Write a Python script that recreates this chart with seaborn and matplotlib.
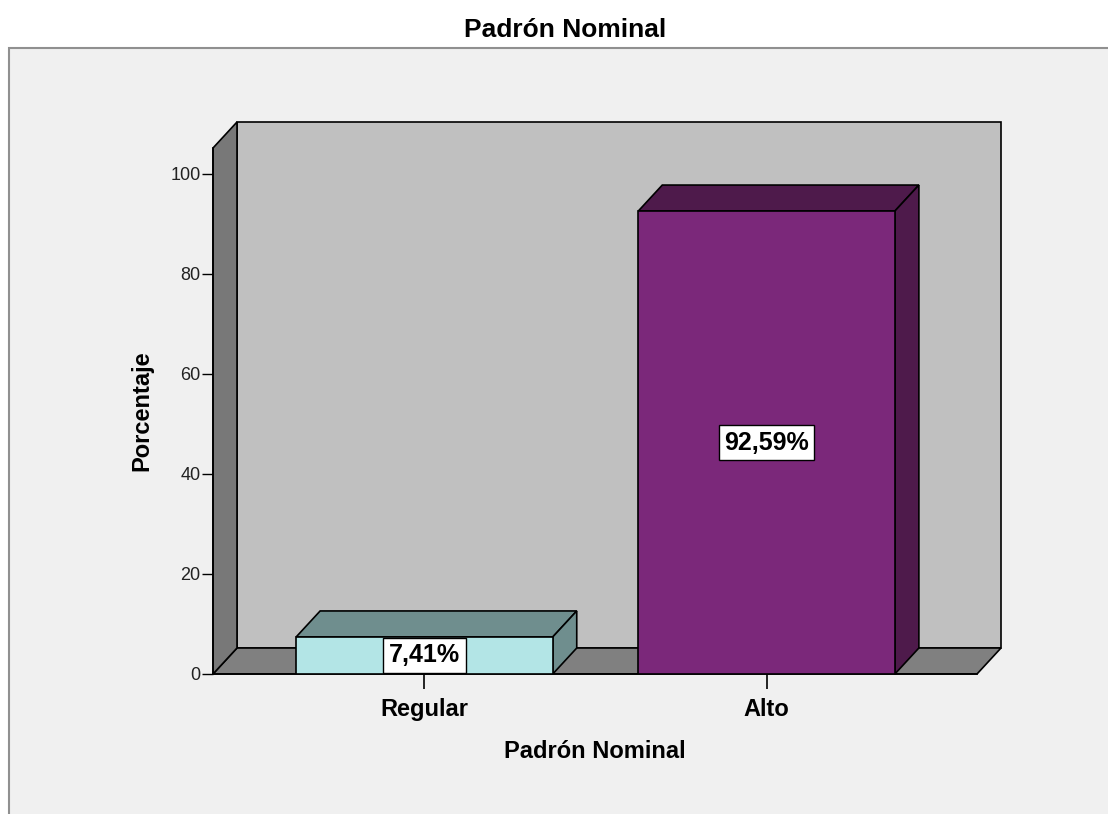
import matplotlib
matplotlib.use("Agg")
import matplotlib.pyplot as plt
from matplotlib.patches import Polygon, Rectangle
import numpy as np
import seaborn as sns

# data
categories = ["Regular", "Alto"]
percentages = [7.41, 92.59]
bar_labels = ["7,41%", "92,59%"]
y_ticks = [0, 20, 40, 60, 80, 100]

front_colors = ["#B3E5E6", "#7B287A"]
shade_colors = ["#6F8E8E", "#4E1A4B"]

W, H = 1108, 814
DEPTH = (24, 26)  # 3D depth offset in pixels

sns.set_style("white")
plt.rcParams["font.family"] = ["Liberation Sans", "DejaVu Sans"]
plt.rcParams["text.color"] = "black"
plt.rcParams["axes.labelcolor"] = "black"

fig = plt.figure(figsize=(W / 100, H / 100), dpi=100, facecolor="white")
fig.patches.append(Rectangle((9 / W, -0.1), 1.2, (H - 48) / H + 0.1,
                             transform=fig.transFigure, facecolor="#F0F0F0",
                             edgecolor="#909090", linewidth=1.5, zorder=-10))

ax = fig.add_axes([213 / W, 140 / H, 764 / W, 526 / H])
ax.set_facecolor("none")

sns.barplot(x=categories, y=percentages, hue=categories, palette=front_colors,
            saturation=1, width=0.75, edgecolor="black", linewidth=1.2,
            legend=False, ax=ax, zorder=5)

ax.set_xlim(-0.618, 1.615)
ax.set_ylim(0, 105.2)

to_disp = ax.transData.transform
to_data = ax.transData.inverted().transform


def shifted(pts):
    d = to_disp(np.asarray(pts, dtype=float)) + np.array(DEPTH)
    return [tuple(p) for p in to_data(d)]


x0, x1 = ax.get_xlim()
y0, y1 = ax.get_ylim()
edge = dict(edgecolor="black", linewidth=1.2, clip_on=False)

# back wall
back = shifted([(x0, y0), (x1, y0), (x1, y1), (x0, y1)])
ax.add_patch(Polygon(back, facecolor="#C0C0C0", zorder=0, **edge))
# floor
floor = [(x0, y0), (x1, y0)] + shifted([(x1, y0), (x0, y0)])
ax.add_patch(Polygon(floor, facecolor="#808080", zorder=1, **edge))
# left wall
left = [(x0, y0), (x0, y1)] + shifted([(x0, y1), (x0, y0)])
ax.add_patch(Polygon(left, facecolor="#787878", zorder=1, **edge))

# 3D faces for bars
for bar, shade in zip(ax.patches[:len(categories)], shade_colors):
    bx0, by0 = bar.get_x(), bar.get_y()
    bx1, by1 = bx0 + bar.get_width(), by0 + bar.get_height()
    top = [(bx0, by1), (bx1, by1)] + shifted([(bx1, by1), (bx0, by1)])
    side = [(bx1, by0), (bx1, by1)] + shifted([(bx1, by1), (bx1, by0)])
    ax.add_patch(Polygon(top, facecolor=shade, zorder=4, **edge))
    ax.add_patch(Polygon(side, facecolor=shade, zorder=4, **edge))

for i, (val, lab) in enumerate(zip(percentages, bar_labels)):
    ax.text(i, val / 2, lab, ha="center", va="center", fontsize=18,
            fontweight="bold", color="black", zorder=8,
            bbox=dict(boxstyle="square,pad=0.22", facecolor="white",
                      edgecolor="black", linewidth=1))

for s in ["top", "right"]:
    ax.spines[s].set_visible(False)
for s in ["left", "bottom"]:
    ax.spines[s].set_color("black")
    ax.spines[s].set_linewidth(1.2)
    ax.spines[s].set_zorder(3)

ax.set_yticks(y_ticks)
ax.tick_params(axis="y", length=8, width=1, color="black", labelsize=13,
               labelcolor="#222222", pad=1, left=True)
ax.tick_params(axis="x", length=11, width=1.2, color="black", labelsize=17,
               labelcolor="black", pad=6, bottom=True)
for t in ax.get_xticklabels():
    t.set_fontweight("bold")

ax.set_xlabel("Padrón Nominal", fontsize=17, fontweight="bold", labelpad=14)
ax.set_ylabel("Porcentaje", fontsize=17, fontweight="bold", labelpad=12)

fig.text(565 / W, 1 - 30 / H, "Padrón Nominal", ha="center", va="center",
         fontsize=19, fontweight="bold", color="black")

fig.savefig("out.png", dpi=100)
